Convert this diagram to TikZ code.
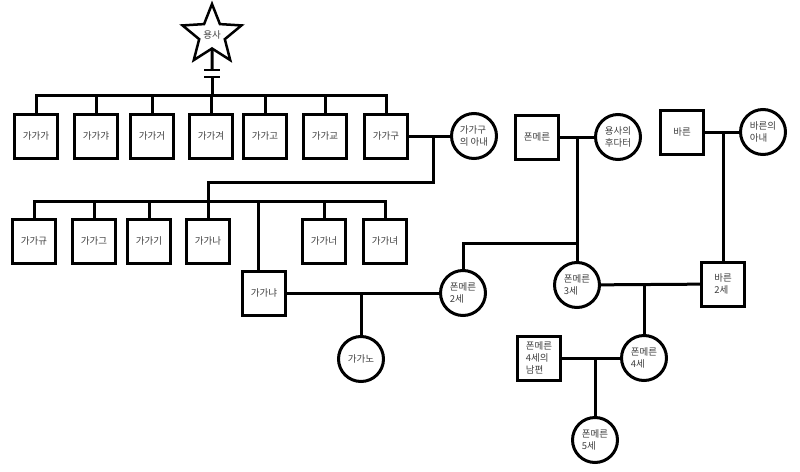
\documentclass[tikz,border=0pt]{standalone}
\usepackage{fontspec}
\newfontfamily\kr{Noto Sans CJK KR}
\usetikzlibrary{shapes.geometric}
\begin{document}
\begin{tikzpicture}[x=1pt,y=-1pt,
  ln/.style={line width=3pt},
  lbl/.style={font=\kr\fontsize{9.5}{12}\selectfont,text=black!75,align=left},
  sq/.style={lbl,draw,line width=3pt,minimum width=43pt,minimum height=44pt,inner sep=0pt},
  ci/.style={lbl,draw,circle,line width=3pt,minimum size=45pt,inner sep=0pt}]
\useasboundingbox[fill=white] (0,0) rectangle (800,471);

% star
\node[lbl,draw,star,star points=5,star point ratio=2.3,minimum size=62pt,inner sep=0pt,line width=2.5pt] (star) at (212,35) {용사};
\coordinate (s1) at (212,70);
\coordinate (s2) at (212,77);
\coordinate (t) at (212,95);
\draw[ln] (star) -- (s1);
\draw[line width=2pt] ([xshift=-8pt]s1) -- ([xshift=8pt]s1);
\draw[line width=2pt] ([xshift=-8pt]s2) -- ([xshift=8pt]s2);
\draw[ln] (s2) -- (t);

% row 1
\node[sq] (g1) at (36,136) {가가가};
\node[sq] (g2) at (96,136) {가가갸};
\node[sq] (g3) at (152,136) {가가거};
\node[sq] (g4) at (211,136) {가가겨};
\node[sq] (g5) at (265,136) {가가고};
\node[sq] (g6) at (325,136) {가가교};
\node[sq] (g7) at (386,136) {가가구};
\draw[ln] (g1.north) |- (t) -| (g7.north);
\foreach \n in {g2,g3,g4,g5,g6} \draw[ln] (\n.north) -- (\n.north |- t);

\node[ci] (w) at (474,136) {가가구\\의 아내};
\draw[ln] (g7) -- (w);
\coordinate (m1) at (433,136);
\coordinate (c1) at (433,182);
\coordinate (c2) at (208,182);
\coordinate (bb) at (208,201);
\draw[ln] (m1) -- (c1) -- (c2) -- (bb);

% row 2
\node[sq] (h1) at (34,241) {가가규};
\node[sq] (h2) at (94,241) {가가그};
\node[sq] (h3) at (149,241) {가가기};
\node[sq] (h4) at (208,241) {가가나};
\node[sq] (h5) at (324,241) {가가너};
\node[sq] (h6) at (385,241) {가가녀};
\draw[ln] (h1.north) |- (bb) -| (h6.north);
\foreach \n in {h2,h3,h4,h5} \draw[ln] (\n.north) -- (\n.north |- bb);

\node[sq] (gn) at (264,293) {가가냐};
\coordinate (d) at (258,201);
\draw[ln] (d) -- (d |- gn.north);

\node[ci] (p2) at (463,293) {폰메른\\2세};
\draw[ln] (gn) -- (p2);
\coordinate (m2) at (361,293);
\node[ci] (gno) at (361,359) {가가노};
\draw[ln] (m2) -- (gno);

% right side
\node[sq] (pm) at (537,137) {폰메른};
\node[ci] (yh) at (618,137) {용사의\\후다터};
\draw[ln] (pm) -- (yh);
\coordinate (m3) at (577,137);
\node[ci] (p3) at (577,285) {폰메른\\3세};
\draw[ln] (m3) -- (p3);
\coordinate (c4) at (577,243);
\draw[ln] (p2.north) |- (c4);

\node[sq] (br) at (682,132) {바른};
\node[ci] (bw) at (763,132) {바른의\\아내};
\draw[ln] (br) -- (bw);
\coordinate (m4) at (723,132);
\node[sq] (b2) at (723,284) {바른\\2세};
\draw[ln] (m4) -- (b2);
\draw[ln] (p3) -- (b2);

\coordinate (m5) at (644,285);
\node[ci] (p4) at (644,358) {폰메른\\4세};
\draw[ln] (m5) -- (p4);
\node[sq] (hus) at (539,358) {폰메른\\4세의\\남편};
\draw[ln] (hus) -- (p4);
\coordinate (m6) at (595,358);
\node[ci] (p5) at (595,440) {폰메른\\5세};
\draw[ln] (m6) -- (p5);
\end{tikzpicture}
\end{document}
